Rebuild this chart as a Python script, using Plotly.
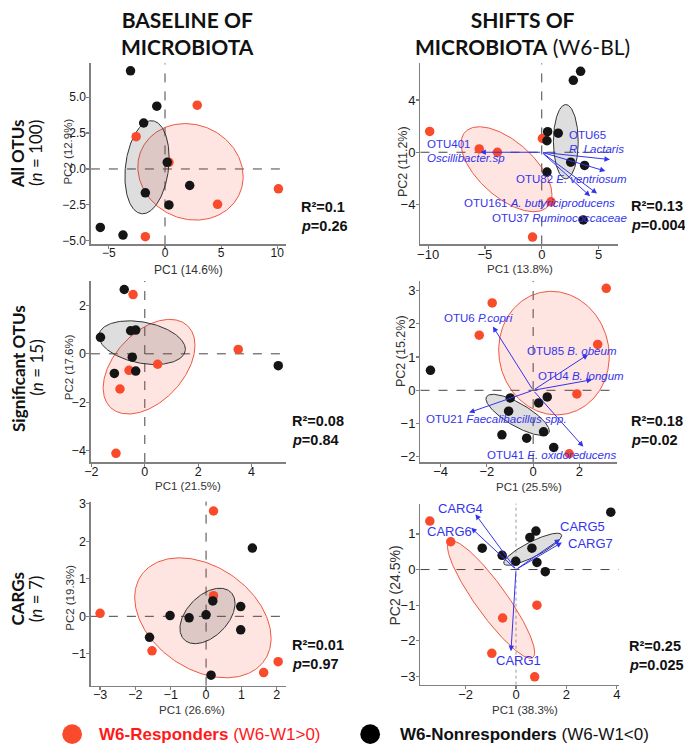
import numpy as np
import plotly.graph_objects as go

W, H = 685, 750
RED = "#F94A2B"
BLACK = "#151515"
BLUE = "#3434EC"
AXC = "#808080"
TXT = "Liberation Sans, Arial, sans-serif"
TITLEF = "Lato, Open Sans, sans-serif"

# ---------------- data ----------------
# Panel 1: baseline, all OTUs
p1_red_x = [2.87, -2.57, 0.35, 10.1, 4.68, -1.75]
p1_red_y = [4.44, 2.25, 0.46, -1.38, -2.46, -4.71]
p1_blk_x = [-3.07, -0.73, -1.9, 0.2, -1.75, 2.2, 0.35, -5.76, -3.74]
p1_blk_y = [6.83, 4.37, 3.2, 0.46, -1.66, -1.15, -2.5, -4.07, -4.6]
p1_ell_red = [2.27, -0.2, 4.69, 3.36, -0.1]      # cx, cy, rx, ry, rho
p1_ell_blk = [-1.6, 0.12, 1.97, 3.24, 0.2]
p1_xticks = [-5, 0, 5, 10]
p1_yticks = [-5, -2.5, 0, 2.5, 5]

# Panel 2: shifts, all OTUs
p2_red_x = [-9.86, 0.06, -5.5, -3.9, 0.81, -0.81]
p2_red_y = [1.59, 1.06, 0.25, 0.0, -3.79, -6.49]
p2_blk_x = [3.42, 2.78, 0.52, 1.45, 0.46, 2.55, 3.77, 0.46, 3.65]
p2_blk_y = [6.19, 5.5, 1.57, 1.46, 0.88, -0.76, -1.01, -1.52, -5.18]
p2_ell_red = [-3.1, -1.3, 4.0, 3.25, -0.6]
p2_ell_blk = [2.12, 0.81, 1.09, 2.84, 0.0]
p2_arrow_x = [-5.4, 6.0, 5.6, 4.87, 4.26]
p2_arrow_y = [0.0, -0.56, -1.44, -3.16, -3.36]
p2_labels = ["OTU401", "<i>Oscillibacter.sp</i>", "OTU65", "<i>R. Lactaris</i>",
             "OTU82 <i>E. ventriosum</i>", "OTU161 <i>A. butyriciproducens</i>",
             "OTU37 <i>Ruminococcaceae</i>"]
p2_label_x = [-10.23, -10.23, 2.26, 2.26, -2.46, -7.04, -4.58]
p2_label_y = [0.63, -0.45, 1.29, 0.25, -2.07, -3.91, -5.05]
p2_xticks = [-10, -5, 0, 5]
p2_yticks = [-4, 0, 4]

# Panel 3: baseline, significant OTUs
p3_red_x = [-0.44, 3.5, 0.48, -0.59, -0.93, -1.08]
p3_red_y = [2.44, 0.18, -0.43, -0.68, -1.45, -4.1]
p3_blk_x = [-0.77, -1.66, -0.53, -0.34, -0.47, -1.14, -0.34, 5.0]
p3_blk_y = [2.65, 0.68, 0.95, 0.98, -0.14, -0.81, -0.71, -0.49]
p3_ell_red = [0.16, -0.53, 1.72, 1.95, 0.45]
p3_ell_blk = [-0.1, 0.46, 1.62, 0.9, -0.3]
p3_xticks = [-2, 0, 2, 4]
p3_yticks = [-4, -2, 0, 2]

# Panel 4: shifts, significant OTUs
p4_red_x = [3.16, -1.77, -2.33, 2.79, 1.89, 1.56]
p4_red_y = [3.07, 2.63, 1.66, 1.38, -0.11, -1.91]
p4_blk_x = [-4.44, -0.99, 0.61, 0.24, -1.06, -1.35, -0.28, 0.45, 0.89]
p4_blk_y = [0.6, -0.23, -0.2, -0.38, -0.63, -1.34, -1.44, -1.25, -1.72]
p4_ell_red = [0.9, 1.12, 2.39, 1.86, -0.05]
p4_ell_blk = [-0.67, -0.74, 1.37, 0.62, -0.78]
p4_arrow_x = [-1.74, 2.38, 2.55, -2.77, 2.17]
p4_arrow_y = [1.92, 1.08, 0.32, -0.67, -1.7]
p4_labels = ["OTU6 <i>P.copri</i>", "OTU85 <i>B. obeum</i>", "OTU4 <i>B. longum</i>",
             "OTU21 <i>Faecalibacillus spp.</i>", "OTU41 <i>E. oxidoreducens</i>"]
p4_label_x = [-3.94, -0.35, 0.11, -4.71, -2.09]
p4_label_y = [2.17, 1.19, 0.44, -0.87, -1.94]
p4_xticks = [-4, -2, 0, 2]
p4_yticks = [-2, -1, 0, 1, 2, 3]

# Panel 5: baseline, CARGs
p5_red_x = [0.21, -3.0, 0.21, -1.53, 2.04, 1.63]
p5_red_y = [2.81, 0.08, 0.55, -0.92, -1.21, -1.5]
p5_blk_x = [1.31, 0.19, 0.98, -1.02, -0.48, 0.0, 0.98, -1.6, 0.14]
p5_blk_y = [1.82, 0.41, 0.26, 0.02, -0.04, 0.04, -0.36, -0.56, -1.57]
p5_ell_red = [-0.09, -0.04, 1.93, 1.6, -0.34]
p5_ell_blk = [0.04, 0.01, 0.78, 0.74, 0.45]
p5_xticks = [-3, -2, -1, 0, 1, 2]
p5_yticks = [-1, 0, 1, 2, 3]

# Panel 6: shifts, CARGs
p6_red_x = [-3.42, -2.59, 0.83, -0.53, -0.96, 0.74]
p6_red_y = [1.36, 0.78, -1.0, -1.36, -2.35, -3.01]
p6_blk_x = [3.76, 0.79, 0.55, -1.34, 0.63, -0.55, -0.01, 0.83, 1.16]
p6_blk_y = [1.61, 1.08, 0.9, 0.6, 0.6, 0.4, 0.23, 0.2, -0.06]
p6_ell_red = [-0.99, -0.84, 1.73, 1.65, -0.9]
p6_ell_blk = [0.66, 0.57, 1.15, 0.45, 0.85]
p6_arrow_x = [-1.61, -1.78, 1.75, 1.82, -0.2]
p6_arrow_y = [1.55, 1.17, 0.85, 0.76, -2.29]
p6_labels = ["CARG4", "CARG6", "CARG5", "CARG7", "CARG1"]
p6_label_x = [-3.18, -3.62, 1.67, 1.97, -0.88]
p6_label_y = [1.71, 1.08, 1.22, 0.74, -2.56]
p6_xticks = [-2, 0, 2, 4]
p6_yticks = [-3, -2, -1, 0, 1]

stats_r2 = ["0.1", "0.13", "0.08", "0.18", "0.01", "0.25"]
stats_p = ["0.26", "0.004", "0.84", "0.02", "0.97", "0.025"]
pc1_labels = ["PC1 (14.6%)", "PC1 (13.8%)", "PC1 (21.5%)", "PC1 (25.5%)", "PC1 (26.6%)", "PC1 (38.3%)"]
pc2_labels = ["PC2 (12.9%)", "PC2 (11.2%)", "PC2 (17.6%)", "PC2 (15.2%)", "PC2 (19.3%)", "PC2 (24.5%)"]
row_labels = ["All OTUs", "Significant OTUs", "CARGs"]
row_n = ["100", "15", "7"]


def px(x):
    return x / W


def py(y):
    return 1 - y / H


panels = [
    dict(red=(p1_red_x, p1_red_y), blk=(p1_blk_x, p1_blk_y), er=p1_ell_red, eb=p1_ell_blk,
         xr=[-6.6, 10.8], yr=[-5.25, 7.35], xt=p1_xticks, yt=p1_yticks, yfmt=".1f",
         box=(85, 283, 60, 243), tick=12, arrows=None, labels=None, lab_size=12, dash="dash",
         xtitle=(184, 269, 12), ytitle=(62, 149, 11.5), stat=(296, 205)),
    dict(red=(p2_red_x, p2_red_y), blk=(p2_blk_x, p2_blk_y), er=p2_ell_red, eb=p2_ell_blk,
         xr=[-10.67, 6.7], yr=[-7.05, 6.8], xt=p2_xticks, yt=p2_yticks, yfmt="",
         box=(419, 619, 60, 243), tick=13, arrows=(p2_arrow_x, p2_arrow_y),
         labels=(p2_labels, p2_label_x, p2_label_y), lab_size=11.5, dash="dash",
         xtitle=(520, 268, 11.5), ytitle=(402, 159, 12.5), stat=(630, 204)),
    dict(red=(p3_red_x, p3_red_y), blk=(p3_blk_x, p3_blk_y), er=p3_ell_red, eb=p3_ell_blk,
         xr=[-2.02, 5.3], yr=[-4.46, 3.0], xt=p3_xticks, yt=p3_yticks, yfmt="",
         box=(85, 283, 280, 463), tick=12.5, arrows=None, labels=None, lab_size=12, dash="dash",
         xtitle=(183, 487, 11.5), ytitle=(63, 367, 11.5), stat=(287, 422)),
    dict(red=(p4_red_x, p4_red_y), blk=(p4_blk_x, p4_blk_y), er=p4_ell_red, eb=p4_ell_blk,
         xr=[-4.87, 3.62], yr=[-2.16, 3.29], xt=p4_xticks, yt=p4_yticks, yfmt="",
         box=(419, 618, 280, 463), tick=13, arrows=(p4_arrow_x, p4_arrow_y),
         labels=(p4_labels, p4_label_x, p4_label_y), lab_size=11.5, dash="dash",
         xtitle=(529, 488, 11.5), ytitle=(400, 351, 12.5), stat=(630, 422)),
    dict(red=(p5_red_x, p5_red_y), blk=(p5_blk_x, p5_blk_y), er=p5_ell_red, eb=p5_ell_blk,
         xr=[-3.26, 2.27], yr=[-1.85, 3.06], xt=p5_xticks, yt=p5_yticks, yfmt="",
         box=(85, 283, 503, 689), tick=12.5, arrows=None, labels=None, lab_size=12, dash="dash",
         xtitle=(187, 714, 11.5), ytitle=(63, 600, 11.5), stat=(287, 648)),
    dict(red=(p6_red_x, p6_red_y), blk=(p6_blk_x, p6_blk_y), er=p6_ell_red, eb=p6_ell_blk,
         xr=[-3.79, 4.08], yr=[-3.23, 1.85], xt=p6_xticks, yt=p6_yticks, yfmt="",
         box=(419, 620, 505, 688), tick=13, arrows=(p6_arrow_x, p6_arrow_y),
         labels=(p6_labels, p6_label_x, p6_label_y), lab_size=13, dash="dot",
         xtitle=(525, 714, 11.5), ytitle=(393, 588, 14), stat=(628, 649)),
]


def ellipse(params):
    cx, cy, rx, ry, rho = params
    t = np.linspace(0, 2 * np.pi, 240)
    x = cx + rx * np.cos(t)
    y = cy + ry * (rho * np.cos(t) + np.sqrt(1 - rho ** 2) * np.sin(t))
    return x, y


fig = go.Figure()
shapes = []
annotations = []
layout_axes = {}

for i, p in enumerate(panels, start=1):
    xa = "x" if i == 1 else f"x{i}"
    ya = "y" if i == 1 else f"y{i}"
    xkey = "xaxis" if i == 1 else f"xaxis{i}"
    ykey = "yaxis" if i == 1 else f"yaxis{i}"
    x0, x1, y0, y1 = p["box"]

    # ellipses
    ex, ey = ellipse(p["er"])
    fig.add_trace(go.Scatter(x=ex, y=ey, mode="lines", fill="toself",
                             fillcolor="rgba(249,74,43,0.14)",
                             line=dict(color="rgba(235,70,45,0.9)", width=1),
                             xaxis=xa, yaxis=ya, hoverinfo="skip", showlegend=False))
    ex, ey = ellipse(p["eb"])
    fig.add_trace(go.Scatter(x=ex, y=ey, mode="lines", fill="toself",
                             fillcolor="rgba(70,70,70,0.18)",
                             line=dict(color="#333333", width=1),
                             xaxis=xa, yaxis=ya, hoverinfo="skip", showlegend=False))
    # points
    fig.add_trace(go.Scatter(x=p["red"][0], y=p["red"][1], mode="markers",
                             marker=dict(color=RED, size=9.5, line=dict(width=0)),
                             xaxis=xa, yaxis=ya, showlegend=False))
    fig.add_trace(go.Scatter(x=p["blk"][0], y=p["blk"][1], mode="markers",
                             marker=dict(color=BLACK, size=9.5, line=dict(width=0)),
                             xaxis=xa, yaxis=ya, showlegend=False))

    # reference lines
    dcol = "#444444" if p["dash"] == "dash" else "#999999"
    shapes.append(dict(type="line", xref=xa, yref=f"{ya} domain", x0=0, x1=0, y0=0, y1=1,
                       line=dict(color=dcol, width=1, dash=p["dash"]), layer="below"))
    shapes.append(dict(type="line", xref=f"{xa} domain", yref=ya, x0=0, x1=1, y0=0, y1=0,
                       line=dict(color="#444444", width=1, dash="dash"), layer="below"))

    # axes
    common = dict(showgrid=False, zeroline=False, showline=True, linecolor=AXC, linewidth=1.5,
                  ticks="outside", ticklen=3, tickcolor=AXC, tickwidth=1.2,
                  tickfont=dict(family=TXT, size=p["tick"], color="#1a1a1a"))
    layout_axes[xkey] = dict(domain=[px(x0), px(x1)], range=p["xr"], anchor=ya,
                             tickvals=p["xt"], ticklabelstandoff=-6, **common)
    layout_axes[ykey] = dict(domain=[py(y1), py(y0)], range=p["yr"], anchor=xa,
                             tickvals=p["yt"], tickformat=p["yfmt"], ticklabelstandoff=-2,
                             **common)

    # arrows and labels
    if p["arrows"] is not None:
        for ax_, ay_ in zip(*p["arrows"]):
            annotations.append(dict(x=ax_, y=ay_, ax=0, ay=0, xref=xa, yref=ya,
                                    axref=xa, ayref=ya, showarrow=True, text="",
                                    arrowhead=2, arrowsize=1.1, arrowwidth=1,
                                    arrowcolor=BLUE, standoff=0))
        for t, lx, ly in zip(*p["labels"]):
            annotations.append(dict(x=lx, y=ly, xref=xa, yref=ya, text=t, showarrow=False,
                                    xanchor="left", yanchor="middle",
                                    font=dict(family=TXT, size=p["lab_size"], color=BLUE)))

    # axis titles
    tx, tyy, ts = p["xtitle"]
    annotations.append(dict(x=px(tx), y=py(tyy), xref="paper", yref="paper",
                            text=pc1_labels[i - 1], showarrow=False,
                            xanchor="center", yanchor="middle",
                            font=dict(family=TXT, size=ts, color="#333333")))
    tx, tyy, ts = p["ytitle"]
    annotations.append(dict(x=px(tx), y=py(tyy), xref="paper", yref="paper",
                            text=pc2_labels[i - 1], showarrow=False, textangle=-90,
                            xanchor="center", yanchor="middle",
                            font=dict(family=TXT, size=ts, color="#333333")))

    # stats
    sx, sy = p["stat"]
    annotations.append(dict(x=px(sx), y=py(sy), xref="paper", yref="paper",
                            text=f"<b>R²={stats_r2[i - 1]}</b>", showarrow=False,
                            xanchor="left", yanchor="middle",
                            font=dict(family=TXT, size=14.5, color="#111111")))
    annotations.append(dict(x=px(sx), y=py(sy + 19), xref="paper", yref="paper",
                            text=f"<b><i>p</i>={stats_p[i - 1]}</b>", showarrow=False,
                            xanchor="left", yanchor="middle",
                            font=dict(family=TXT, size=14.5, color="#111111")))

# column titles
annotations.append(dict(x=px(183), y=py(29), xref="paper", yref="paper",
                        text="<b>BASELINE OF</b><br><b>MICROBIOTA</b>", showarrow=False,
                        xanchor="center", yanchor="middle",
                        font=dict(family=TITLEF, size=21, color="#111111")))
annotations.append(dict(x=px(522), y=py(29), xref="paper", yref="paper",
                        text="<b>SHIFTS OF</b><br><b>MICROBIOTA</b> (W6-BL)", showarrow=False,
                        xanchor="center", yanchor="middle",
                        font=dict(family=TITLEF, size=21, color="#111111")))

# row labels
row_y = [151, 368, 601]
for lab, n, ry_ in zip(row_labels, row_n, row_y):
    annotations.append(dict(x=px(11), y=py(ry_), xref="paper", yref="paper",
                            text=f"<b>{lab}</b>", showarrow=False, textangle=-90,
                            xanchor="center", yanchor="middle",
                            font=dict(family=TITLEF, size=17, color="#111111")))
    annotations.append(dict(x=px(29), y=py(ry_), xref="paper", yref="paper",
                            text=f"(<i>n</i> = {n})", showarrow=False, textangle=-90,
                            xanchor="center", yanchor="middle",
                            font=dict(family=TITLEF, size=17, color="#111111")))

# legend
LEG_Y = 738
for cx, col in [(66, RED), (368, "#000000")]:
    r = 10
    shapes.append(dict(type="circle", xref="paper", yref="paper",
                       x0=px(cx - r), x1=px(cx + r), y0=py(LEG_Y + r), y1=py(LEG_Y - r),
                       fillcolor=col, line=dict(width=0)))
annotations.append(dict(x=px(91), y=py(LEG_Y), xref="paper", yref="paper",
                        text="<b>W6-Responders</b> (W6-W1>0)", showarrow=False,
                        xanchor="left", yanchor="middle",
                        font=dict(family=TXT, size=17, color="#FF1A1A")))
annotations.append(dict(x=px(396), y=py(LEG_Y), xref="paper", yref="paper",
                        text="<b>W6-Nonresponders</b> (W6-W1<0)", showarrow=False,
                        xanchor="left", yanchor="middle",
                        font=dict(family=TXT, size=17, color="#111111")))

fig.update_layout(width=W, height=H, margin=dict(l=0, r=0, t=0, b=0),
                  paper_bgcolor="white", plot_bgcolor="white", showlegend=False,
                  shapes=shapes, annotations=annotations, **layout_axes)

fig.write_html("out.html", config={"displayModeBar": False, "staticPlot": True},
               post_script="document.body.style.margin='0px';"
                           "document.body.style.overflow='hidden';")
